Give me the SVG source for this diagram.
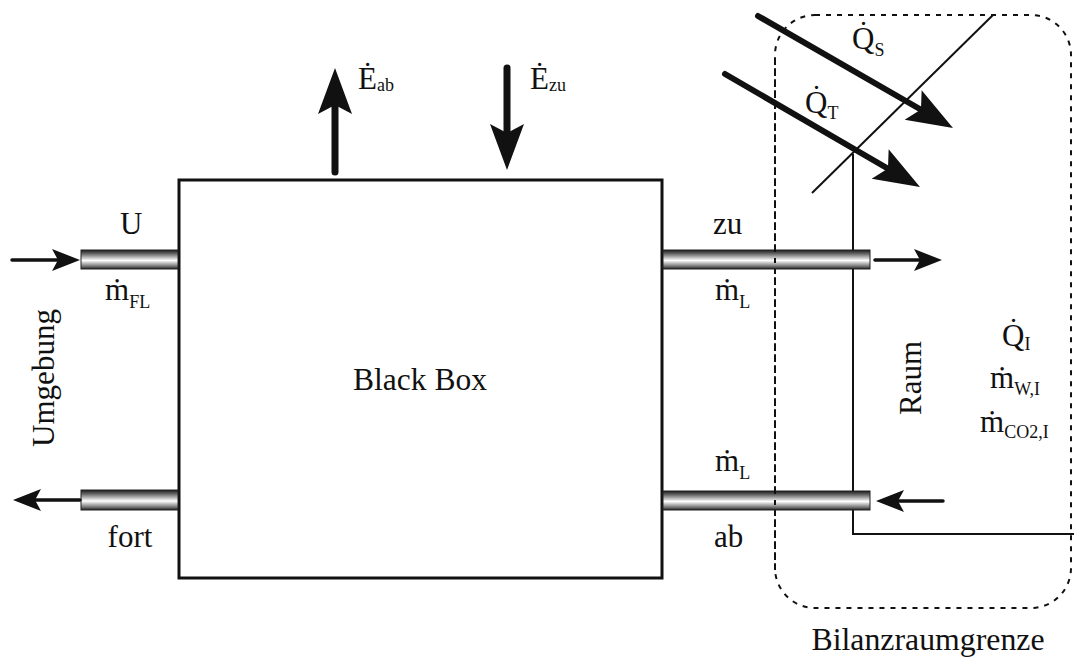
<svg xmlns="http://www.w3.org/2000/svg" width="1074" height="658" viewBox="0 0 1074 658">
<style>
.t{font-family:'Liberation Serif','Times New Roman','DejaVu Serif',serif;font-size:31px;fill:#111;}
.s{font-size:18px;}
.thin{stroke:#111;stroke-width:2;fill:none;}
.pipe{fill:url(#pg);stroke:#222;stroke-width:1;}
.ln{stroke:#111;stroke-linecap:round;fill:none;}
.hd{fill:#111;}
</style>
<defs>
<linearGradient id="pg" x1="0" y1="0" x2="0" y2="1">
<stop offset="0" stop-color="#1a1a1a"/>
<stop offset="0.2" stop-color="#666"/>
<stop offset="0.55" stop-color="#fff"/>
<stop offset="0.85" stop-color="#777"/>
<stop offset="1" stop-color="#222"/>
</linearGradient>
<path id="hb" d="M0,0 L-46,-17 L-37,0 L-46,17 Z"/>
<path id="hs" d="M0,0 L-28,-11 L-22,0 L-28,11 Z"/>
</defs>

<g id="room">
<rect x="775" y="15" width="296" height="593" rx="40" ry="40" fill="none" stroke="#111" stroke-width="2" stroke-dasharray="5 6"/>
<line class="thin" x1="812" y1="193" x2="993" y2="15"/>
<polyline class="thin" points="853,154 853,534 1074,534"/>
</g>

<g id="blackbox">
<rect x="179" y="180" width="483" height="398" fill="#fff" stroke="#111" stroke-width="3"/>
<text class="t" x="420" y="390" text-anchor="middle" textLength="134" lengthAdjust="spacingAndGlyphs">Black Box</text>
</g>

<g id="pipes">
<rect class="pipe" x="81" y="250" width="97" height="19"/>
<rect class="pipe" x="81" y="490" width="97" height="20"/>
<rect class="pipe" x="663" y="250" width="207" height="19"/>
<rect class="pipe" x="663" y="491" width="207" height="19"/>
</g>

<line x1="775" y1="60" x2="775" y2="570" stroke="#111" stroke-width="2" stroke-dasharray="5 6"/>

<g id="connectors">
<line class="ln" x1="12" y1="260" x2="60" y2="260" stroke-width="3.5"/>
<use href="#hs" class="hd" transform="translate(80,260)"/>
<line class="ln" x1="35" y1="500" x2="80" y2="500" stroke-width="3.5"/>
<use href="#hs" class="hd" transform="translate(13,500) rotate(180)"/>
<line class="ln" x1="875" y1="260" x2="920" y2="260" stroke-width="3.5"/>
<use href="#hs" class="hd" transform="translate(942,260)"/>
<line class="ln" x1="898" y1="501" x2="943" y2="501" stroke-width="3.5"/>
<use href="#hs" class="hd" transform="translate(876,501) rotate(180)"/>
<line class="ln" x1="335" y1="172" x2="335" y2="100" stroke-width="7"/>
<use href="#hb" class="hd" transform="translate(335,68) rotate(-90)"/>
<line class="ln" x1="507" y1="68" x2="507" y2="140" stroke-width="7"/>
<use href="#hb" class="hd" transform="translate(507,170) rotate(90)"/>
<line class="ln" x1="758" y1="16" x2="925" y2="112" stroke-width="6"/>
<use href="#hb" class="hd" transform="translate(953,128) rotate(30)"/>
<line class="ln" x1="725" y1="74" x2="892" y2="171" stroke-width="6"/>
<use href="#hb" class="hd" transform="translate(920,187) rotate(30)"/>
</g>

<g id="labels">
<text class="t" x="120" y="234">U</text>
<text class="t" x="105" y="300">ṁ<tspan class="s" dy="8">FL</tspan></text>
<text class="t" x="130" y="547" text-anchor="middle">fort</text>
<text class="t" transform="translate(54,378) rotate(-90)" text-anchor="middle">Umgebung</text>
<text class="t" x="713" y="234">zu</text>
<text class="t" x="715" y="300">ṁ<tspan class="s" dy="8">L</tspan></text>
<text class="t" x="715" y="471">ṁ<tspan class="s" dy="8">L</tspan></text>
<text class="t" x="714" y="547">ab</text>
<text class="t" x="358" y="89">Ė<tspan class="s" dy="2">ab</tspan></text>
<text class="t" x="530" y="89">Ė<tspan class="s" dy="2">zu</tspan></text>
<text class="t" x="852" y="49">Q̇<tspan class="s" dy="7">S</tspan></text>
<text class="t" x="805" y="113">Q̇<tspan class="s" dy="6">T</tspan></text>
<text class="t" transform="translate(921,378) rotate(-90)" text-anchor="middle">Raum</text>
<text class="t" x="1002" y="346">Q̇<tspan class="s" dy="4">I</tspan></text>
<text class="t" x="990" y="388">ṁ<tspan class="s" dy="7">W,I</tspan></text>
<text class="t" x="980" y="432">ṁ<tspan class="s" dy="6">CO2,I</tspan></text>
<text class="t" x="928" y="650" text-anchor="middle" textLength="233" lengthAdjust="spacingAndGlyphs">Bilanzraumgrenze</text>
</g>
</svg>
